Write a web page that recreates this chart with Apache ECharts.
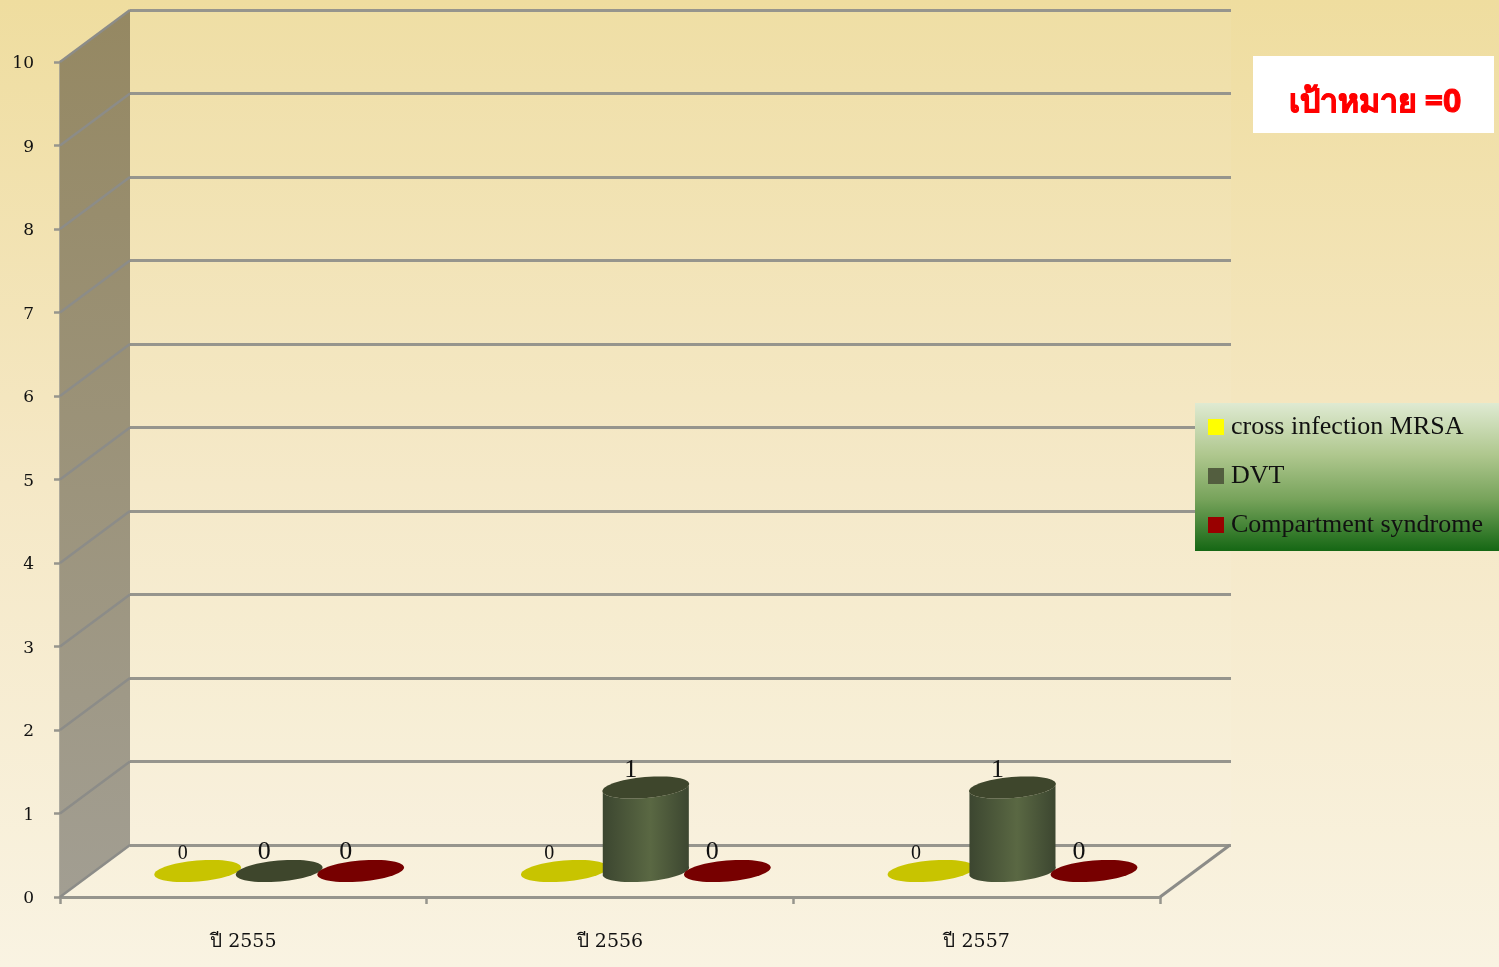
<!DOCTYPE html>
<html><head><meta charset="utf-8">
<style>html,body{margin:0;padding:0;background:#f6eccb}#c{width:1499px;height:967px}</style>
<script src="https://cdn.jsdelivr.net/npm/echarts@6/dist/echarts.min.js"></script>
</head><body><div id="c"></div>
<script>
const categories = ['ปี 2555', 'ปี 2556', 'ปี 2557'];
const seriesNames = ['cross infection MRSA', 'DVT', 'Compartment syndrome'];
const mrsaValues = [0, 0, 0];
const dvtValues = [0, 1, 1];
const compartmentValues = [0, 0, 0];
const yTicks = [0, 1, 2, 3, 4, 5, 6, 7, 8, 9, 10];
const targetText = 'เป้าหมาย =0';

const legendColors = ['#ffff00', '#535e3f', '#990000'];
const capColors = ['#c8c400', '#3e462c', '#770000'];
const bodyEdge = '#3c4630', bodyMid = '#5a6843';
const lineColor = '#96958d';
const wallLineColor = '#8c8c88';
const DX = 70, DY = -52;

const chart = echarts.init(document.getElementById('c'));

function ellipsePts(cx, cy, rx, ry, a0, a1, n) {
  const tilt = -5 * Math.PI / 180, pts = [];
  for (let i = 0; i <= n; i++) {
    const t = a0 + (a1 - a0) * i / n;
    const ex = rx * Math.cos(t), ey = ry * Math.sin(t);
    pts.push([cx + ex * Math.cos(tilt) - ey * Math.sin(tilt),
              cy + ex * Math.sin(tilt) + ey * Math.cos(tilt)]);
  }
  return pts;
}

function cylinderSeries(idx, name, values) {
  return {
    type: 'custom', name, xAxisIndex: 0, yAxisIndex: 0, z: 10 + idx, clip: false,
    itemStyle: { color: legendColors[idx] },
    data: categories.map((c, i) => [i, values[i]]),
    encode: { x: 0, y: 1 },
    renderItem(params, api) {
      const base = api.coord([api.value(0), 0]);
      const top = api.coord([api.value(0), api.value(1)]);
      const cx = base[0] + DX / 2 + 0.8 + (idx - 1) * 81.5;
      const by = base[1] + DY / 2;
      const ty = top[1] + DY / 2;
      const rx = 43.5, ry = 10.5;
      const children = [];
      if (by - ty > 0.5) {
        const lower = ellipsePts(cx, by, rx, ry, -0.1, Math.PI - 0.1, 30);
        const upper = ellipsePts(cx, ty, rx, ry, Math.PI - 0.1, -0.1, 30);
        children.push({
          type: 'polygon', shape: { points: lower.concat(upper) },
          style: { fill: new echarts.graphic.LinearGradient(0, 0, 1, 0, [
            { offset: 0, color: bodyEdge }, { offset: 0.55, color: bodyMid }, { offset: 1, color: bodyEdge }
          ]) }
        });
      }
      children.push({
        type: 'polygon', shape: { points: ellipsePts(cx, ty, rx, ry, 0, Math.PI * 2, 60) },
        style: { fill: capColors[idx] }
      });
      const lift = by - ty > 0.5 ? 17 : (idx === 0 ? 17 : 19);
      children.push({
        type: 'text', x: cx - 15, y: ty - lift,
        style: { text: String(api.value(1)), fill: '#111', align: 'center', verticalAlign: 'middle',
                 font: (idx === 0 ? '20px' : '26px') + ' "Liberation Serif"' }
      });
      return { type: 'group', children };
    }
  };
}

const wallSeries = {
  type: 'custom', name: 'wall', xAxisIndex: 0, yAxisIndex: 0, z: 1, clip: false, silent: true,
  data: [[0, 0, 10]],
  encode: { x: 0, y: [1, 2] },
  renderItem(params, api) {
    const p0 = api.coord([0, 0]), p1 = api.coord([0, 10]);
    const x0 = params.coordSys.x;
    return {
      type: 'polygon',
      shape: { points: [[x0, p0[1]], [x0, p1[1]], [x0 + DX, p1[1] + DY], [x0 + DX, p0[1] + DY]] },
      style: { fill: new echarts.graphic.LinearGradient(0, 0, 0, 1, [
        { offset: 0, color: '#958862' }, { offset: 1, color: '#a29e92' }
      ]) }
    };
  }
};

const wallLines = {
  type: 'custom', name: 'wallLines', xAxisIndex: 0, yAxisIndex: 0, z: 2, clip: false, silent: true,
  data: yTicks.map(v => [0, v]),
  encode: { x: 0, y: 1 },
  renderItem(params, api) {
    const p = api.coord([0, api.value(1)]);
    const x0 = params.coordSys.x;
    return {
      type: 'line', shape: { x1: x0, y1: p[1], x2: x0 + DX, y2: p[1] + DY },
      style: { stroke: wallLineColor, lineWidth: 2.5 }
    };
  }
};

const floorEdge = {
  type: 'custom', name: 'floorEdge', xAxisIndex: 0, yAxisIndex: 0, z: 2, clip: false, silent: true,
  data: [[0, 0]],
  encode: { x: 0, y: 1 },
  renderItem(params, api) {
    const p = api.coord([0, 0]);
    const x1 = params.coordSys.x + params.coordSys.width;
    return {
      type: 'line', shape: { x1, y1: p[1], x2: x1 + DX, y2: p[1] + DY },
      style: { stroke: wallLineColor, lineWidth: 3 }
    };
  }
};

chart.setOption({
  animation: false,
  backgroundColor: new echarts.graphic.LinearGradient(0, 0, 0, 1, [
    { offset: 0, color: '#efdd9f' }, { offset: 0.5, color: '#f5e8c6' }, { offset: 1, color: '#f9f3e2' }
  ]),
  grid: [
    { left: 60, top: 62, width: 1100, height: 835, containLabel: false },
    { left: 130, top: 10, width: 1101, height: 835, show: true, backgroundColor: 'rgba(255,255,255,0.06)', borderWidth: 0 }
  ],
  xAxis: [
    { type: 'category', gridIndex: 0, data: categories,
      axisLine: { lineStyle: { color: lineColor, width: 3 } },
      axisTick: { show: true, length: 7, alignWithLabel: false, lineStyle: { color: lineColor, width: 2.5 } },
      axisLabel: { color: '#111', margin: 36, fontFamily: 'DejaVu Serif', fontSize: 19 } },
    { type: 'category', gridIndex: 1, data: categories, show: false }
  ],
  yAxis: [
    { type: 'value', gridIndex: 0, min: 0, max: 10, interval: 1, offset: -1, splitLine: { show: false },
      axisLine: { show: true, lineStyle: { color: lineColor, width: 3.5 } },
      axisTick: { show: true, length: 7, lineStyle: { color: lineColor, width: 2.5 } },
      axisLabel: { color: '#111', margin: 27, fontFamily: 'DejaVu Serif', fontSize: 17, verticalAlign: 'top', lineHeight: 4 } },
    { type: 'value', gridIndex: 1, min: 0, max: 10, interval: 1,
      axisLine: { show: false }, axisTick: { show: false }, axisLabel: { show: false },
      splitLine: { show: true, lineStyle: { color: lineColor, width: 3 } } }
  ],
  legend: {
    orient: 'vertical', left: 1195, top: 403, data: seriesNames,
    padding: [11, 16, 13, 13], itemGap: 23, itemWidth: 16, itemHeight: 16, icon: 'rect',
    backgroundColor: new echarts.graphic.LinearGradient(0, 0, 0, 1, [
      { offset: 0, color: '#dfead2' }, { offset: 0.35, color: '#afc78e' },
      { offset: 0.65, color: '#77a35b' }, { offset: 1, color: '#156714' }
    ]),
    textStyle: { fontFamily: 'Liberation Serif', fontSize: 26, color: '#111', padding: [0, 0, 0, 2] }
  },
  graphic: [
    { type: 'rect', left: 1253, top: 56, shape: { width: 241, height: 77 }, style: { fill: '#fff' }, z: 5 },
    { type: 'text', left: 1288, top: 86, z: 6,
      style: { text: targetText, fill: '#ff0000', stroke: '#ff0000', lineWidth: 1,
               font: 'bold 32px "Noto Sans", "DejaVu Sans", sans-serif' } }
  ],
  series: [wallSeries, wallLines, floorEdge,
    cylinderSeries(0, seriesNames[0], mrsaValues),
    cylinderSeries(1, seriesNames[1], dvtValues),
    cylinderSeries(2, seriesNames[2], compartmentValues)]
});
</script></body></html>
